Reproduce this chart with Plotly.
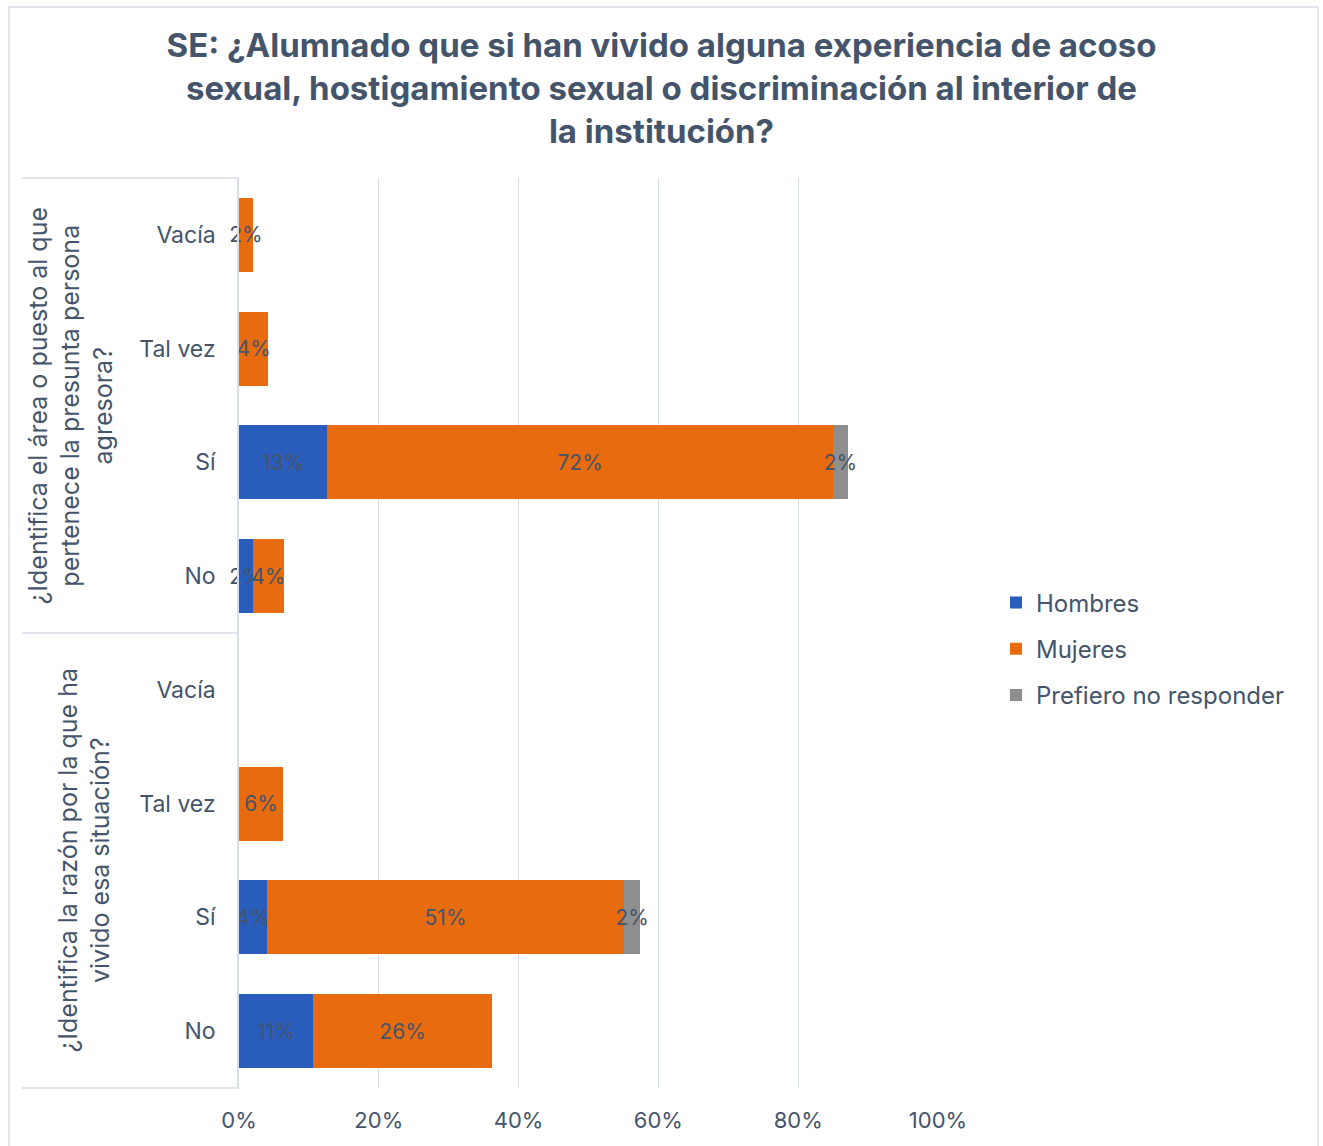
import plotly.graph_objects as go

# ---- data (rows listed top to bottom) ----
groups = [
    "¿Identifica el área o puesto al que<br>pertenece la presunta persona<br>agresora?",
    "¿Identifica la razón por la que ha<br>vivido esa situación?",
]
categories = ["Vacía", "Tal vez", "Sí", "No", "Vacía", "Tal vez", "Sí", "No"]
row_group = [0, 0, 0, 0, 1, 1, 1, 1]
hombres = [0, 0, 12.6, 2.0, 0, 0, 4.0, 10.6]
mujeres = [2.0, 4.2, 72.4, 4.4, 0, 6.3, 51.1, 25.6]
prefiero = [0, 0, 2.1, 0, 0, 0, 2.3, 0]
series_names = ["Hombres", "Mujeres", "Prefiero no responder"]
series_colors = ["#2A5CBC", "#E86B10", "#8E8E8E"]
x_ticks = [0, 20, 40, 60, 80, 100]
title_text = ("SE: ¿Alumnado que si han vivido alguna experiencia de acoso<br>"
              "sexual, hostigamiento sexual o discriminación al interior de<br>"
              "la institución?")

FONT = "Inter"
TXT = "#44546A"
GRID = "#D9DEE6"

rows = list(range(len(categories)))

fig = go.Figure()
for name, vals, col in zip(series_names, [hombres, mujeres, prefiero], series_colors):
    texts = [f"{round(v)}%" if v > 0 else "" for v in vals]
    fig.add_trace(go.Bar(
        y=rows, x=vals, orientation="h", name=name,
        marker=dict(color=col, line=dict(width=0)),
        text=texts, textposition="inside", insidetextanchor="middle", textangle=0,
        textfont=dict(family=FONT, size=21, color=TXT),
        constraintext="none", cliponaxis=False,
        width=0.65, legendgroup=name,
    ))

fig.update_layout(
    barmode="stack",
    width=1323, height=1146,
    margin=dict(l=239, r=385, t=178, b=58),
    paper_bgcolor="white", plot_bgcolor="white",
    font=dict(family=FONT, color=TXT),
    uniformtext=dict(minsize=21, mode="show"),
    title=dict(text=title_text, x=0.5, xref="container", xanchor="center",
               y=1 - 57 / 1146, yref="container", yanchor="middle",
               font=dict(family=FONT, size=33, color=TXT, weight="bold")),
    legend=dict(x=(996 - 239) / 699, y=(1088 - 649) / 910, xanchor="left", yanchor="middle",
                font=dict(family=FONT, size=24, color=TXT), traceorder="grouped",
                tracegroupgap=12, itemwidth=30, bgcolor="rgba(0,0,0,0)"),
    showlegend=True,
)

fig.update_xaxes(range=[0, 100], tickvals=x_ticks, ticktext=[f"{t}%" for t in x_ticks],
                 showgrid=True, gridcolor=GRID, gridwidth=1.3, zeroline=False,
                 showline=False, ticks="", ticklabelstandoff=17,
                 tickfont=dict(family=FONT, size=22, color=TXT))
fig.update_yaxes(range=[len(categories) - 0.5, -0.5], tickvals=rows, ticktext=categories,
                 showgrid=False, zeroline=False, showline=True, linecolor=GRID, linewidth=1.5,
                 ticks="", ticklabelstandoff=17,
                 tickfont=dict(family=FONT, size=23, color=TXT))

# outer chart border
fig.add_shape(type="rect", xref="paper", yref="paper",
              x0=(9 - 239) / 699, x1=(1318 - 239) / 699,
              y0=(1088 - 1160) / 910, y1=(1088 - 7) / 910,
              line=dict(color=GRID, width=1.5), fillcolor="rgba(0,0,0,0)", layer="below")

# category-axis group dividers
n = len(categories)
n_groups = len(groups)
for gi in range(n_groups + 1):
    yy = 1 - sum(1 for g in row_group if g < gi) / n
    fig.add_shape(type="line", xref="paper", yref="paper",
                  x0=(22 - 239) / 699, x1=0, y0=yy, y1=yy,
                  line=dict(color=GRID, width=1.5))

# group labels
group_x = [70, 84]
for gi, g in enumerate(groups):
    idx = [i for i, rg in enumerate(row_group) if rg == gi]
    ymid = 1 - (min(idx) + max(idx) + 1) / 2 / n
    fig.add_annotation(text=g, xref="paper", yref="paper",
                       x=(group_x[gi] - 239) / 699, y=ymid, textangle=-90,
                       showarrow=False, xanchor="center", yanchor="middle", align="center",
                       font=dict(family=FONT, size=25, color=TXT))

fig.write_html("out.html")
